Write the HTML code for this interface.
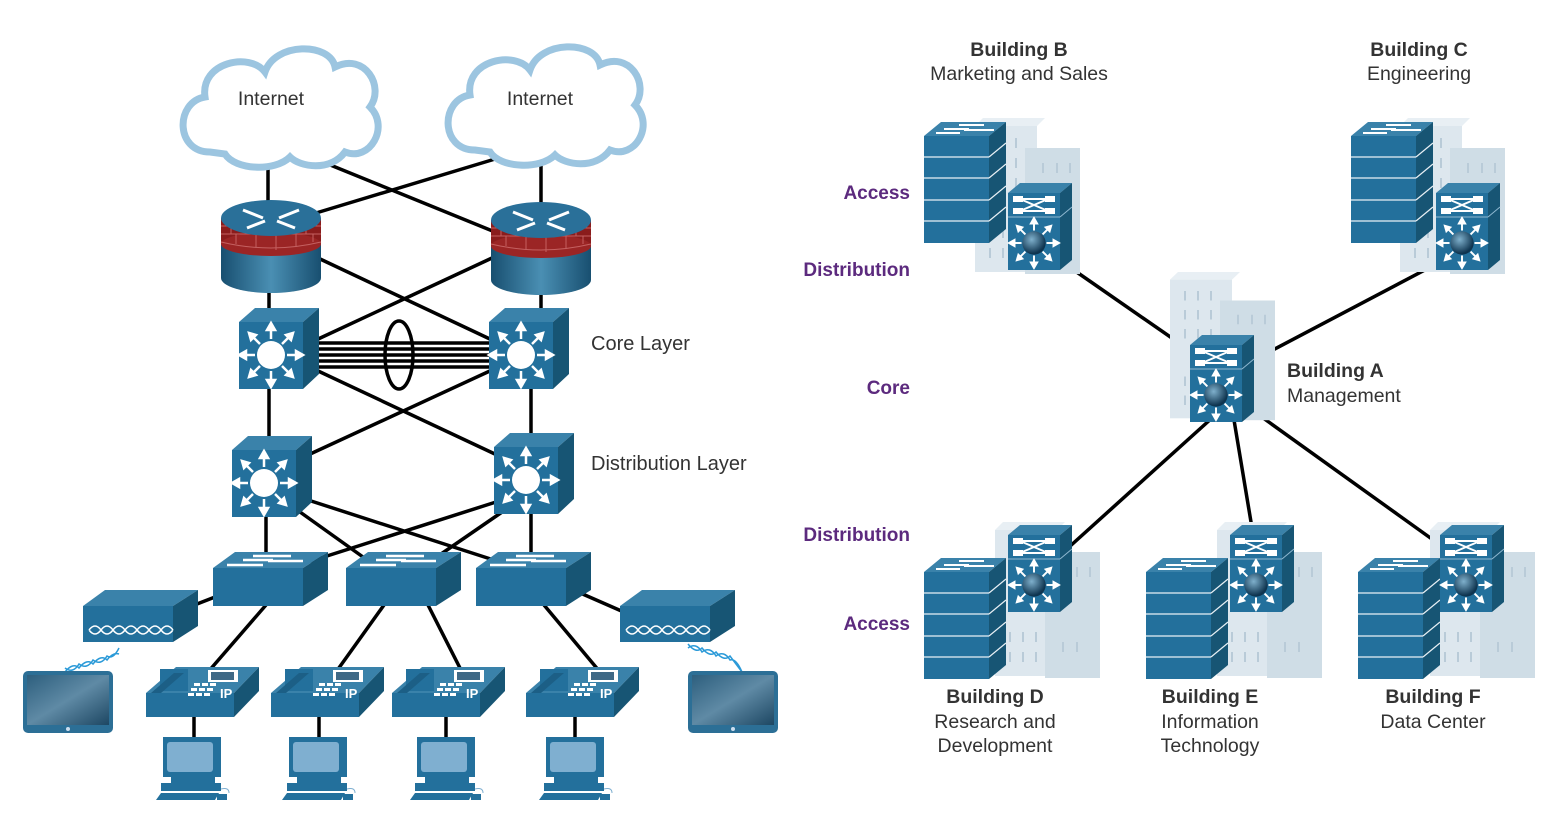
<!DOCTYPE html>
<html><head><meta charset="utf-8"><style>
html,body{margin:0;padding:0;background:#fff;}
svg{display:block;}
text{font-family:"Liberation Sans",sans-serif;}
</style></head><body>
<svg width="1567" height="826" viewBox="0 0 1567 826" xmlns="http://www.w3.org/2000/svg">
<defs>
<linearGradient id="cyl" x1="0" x2="1"><stop offset="0" stop-color="#184f70"/><stop offset="0.5" stop-color="#4a8fb3"/><stop offset="1" stop-color="#184f70"/></linearGradient>
<radialGradient id="sph" cx="0.4" cy="0.35" r="0.6"><stop offset="0" stop-color="#7fb0cc"/><stop offset="1" stop-color="#0f3550"/></radialGradient>
<linearGradient id="scr" x1="0" y1="0" x2="1" y2="1"><stop offset="0" stop-color="#2d5f7e"/><stop offset="0.5" stop-color="#5f8aa5"/><stop offset="1" stop-color="#1d4763"/></linearGradient>
<g id="arrows8">
 <g stroke="#fff" stroke-width="2.5" fill="#fff">
  <line x1="0" y1="-16" x2="0" y2="-27"/><line x1="0" y1="16" x2="0" y2="27"/>
  <line x1="-16" y1="0" x2="-27" y2="0"/><line x1="16" y1="0" x2="27" y2="0"/>
  <line x1="11" y1="-11" x2="19" y2="-19"/><line x1="-11" y1="-11" x2="-19" y2="-19"/>
  <line x1="11" y1="11" x2="19" y2="19"/><line x1="-11" y1="11" x2="-19" y2="19"/>
  <polygon points="0,-32 -4,-25 4,-25"/><polygon points="0,32 -4,25 4,25"/>
  <polygon points="-32,0 -25,-4 -25,4"/><polygon points="32,0 25,-4 25,4"/>
  <polygon points="22,-22 15,-20 20,-15"/><polygon points="-22,-22 -15,-20 -20,-15"/>
  <polygon points="22,22 15,20 20,15"/><polygon points="-22,22 -15,20 -20,15"/>
 </g>
</g>
<g id="cube">
 <polygon points="0,14 16,0 80,0 64,14" fill="#3a82aa"/>
 <polygon points="64,14 80,0 80,66 64,81" fill="#175574"/>
 <rect x="0" y="14" width="64" height="67" fill="#23709c"/>
 <g transform="translate(32,47)"><use href="#arrows8"/><circle r="14" fill="#fff"/></g>
</g>
<g id="fw">
 <rect x="0" y="28" width="100" height="50" fill="url(#cyl)"/>
 <ellipse cx="50" cy="78" rx="50" ry="15" fill="url(#cyl)"/>
 <rect x="0" y="18" width="100" height="26" fill="#8a1c1c"/>
 <ellipse cx="50" cy="44" rx="50" ry="12" fill="#9b2525"/>
 <g stroke="#c46060" stroke-width="1" fill="none">
  <path d="M0,26 H100 M0,34 H100 M0,42 Q50,54 100,42"/>
  <path d="M15,18 V26 M35,18 V26 M55,18 V26 M75,18 V26 M90,18 V26 M25,26 V34 M45,26 V34 M65,26 V34 M85,26 V34 M10,26 V34 M15,34 V44 M35,34 V48 M55,34 V50 M75,34 V47 M92,34 V42"/>
 </g>
 <ellipse cx="50" cy="18" rx="50" ry="18" fill="#2a7099"/>
 <g stroke="#fff" stroke-width="3">
  <line x1="22" y1="10" x2="42" y2="18"/><line x1="78" y1="10" x2="58" y2="18"/>
  <line x1="26" y1="28" x2="44" y2="21"/><line x1="74" y1="28" x2="56" y2="21"/>
 </g>
</g>
<g id="asw">
 <polygon points="0,16 22,0 115,0 90,16" fill="#3a82aa"/>
 <polygon points="90,16 115,0 115,38 90,54" fill="#175574"/>
 <rect x="0" y="16" width="90" height="38" fill="#23709c"/>
 <g stroke="#fff" stroke-width="2.5"><line x1="40" y1="4" x2="78" y2="4"/><line x1="30" y1="8" x2="60" y2="8"/><line x1="55" y1="9" x2="90" y2="9"/><line x1="14" y1="13" x2="50" y2="13"/></g>
</g>
<g id="ap">
 <polygon points="0,16 22,0 115,0 90,16" fill="#3a82aa"/>
 <polygon points="90,16 115,0 115,36 90,52" fill="#175574"/>
 <rect x="0" y="16" width="90" height="36" fill="#23709c"/>
 <g fill="none" stroke="#fff" stroke-width="1.5">
  <path d="M6,40 q6,-8 12,0 q6,8 12,0 q6,-8 12,0 q6,8 12,0 q6,-8 12,0 q6,8 12,0 q6,-8 12,0 M6,40 q6,8 12,0 q6,-8 12,0 q6,8 12,0 q6,-8 12,0 q6,8 12,0 q6,-8 12,0 q6,8 12,0"/>
 </g>
</g>
<g id="tab">
 <rect x="0" y="0" width="90" height="62" rx="5" fill="#2c6f96"/>
 <rect x="4" y="4" width="82" height="50" fill="url(#scr)"/>
 <circle cx="45" cy="58" r="2" fill="#cde"/>
</g>
<g id="phone">
 <polygon points="0,26 30,0 113,0 88,26" fill="#3a82aa"/>
 <polygon points="88,26 113,0 113,24 88,50" fill="#175574"/>
 <rect x="0" y="26" width="88" height="24" fill="#23709c"/>
 <rect x="14" y="2" width="28" height="22" fill="#23709c"/>
 <polygon points="5,26 28,6 38,6 15,26" fill="#1c5f86"/>
 <rect x="62" y="3" width="30" height="12" fill="#fff"/><rect x="65" y="5" width="23" height="8" fill="#3f6986"/>
 <g fill="#fff"><rect x="48" y="16" width="6" height="3"/><rect x="56" y="16" width="6" height="3"/><rect x="64" y="16" width="6" height="3"/><rect x="45" y="21" width="6" height="3"/><rect x="53" y="21" width="6" height="3"/><rect x="61" y="21" width="6" height="3"/><rect x="42" y="26" width="6" height="3"/><rect x="50" y="26" width="6" height="3"/><rect x="58" y="26" width="6" height="3"/></g>
 <text x="74" y="31" font-size="13" font-weight="bold" fill="#fff">IP</text>
</g>
<g id="pc">
 <rect x="10" y="0" width="58" height="40" fill="#23709c"/>
 <rect x="14" y="5" width="46" height="30" rx="3" fill="#7fafd0"/>
 <rect x="18" y="40" width="44" height="6" fill="#23709c"/>
 <rect x="8" y="46" width="60" height="8" fill="#23709c"/>
 <polygon points="3,63 8,56 66,56 62,63" fill="#23709c"/>
 <rect x="64" y="57" width="10" height="6" fill="#23709c"/>
 <path d="M68,52 q8,-2 8,4" fill="none" stroke="#7fafd0"/>
</g>
<g id="stack">
 <polygon points="0,16 17,2 82,2 65,16" fill="#3a82aa"/>
 <g stroke="#fff" stroke-width="2"><line x1="35" y1="5" x2="60" y2="5"/><line x1="20" y1="9" x2="45" y2="9"/><line x1="40" y1="10" x2="70" y2="10"/><line x1="12" y1="13" x2="36" y2="13"/></g>
 <polygon points="65,16 82,2 82,109 65,123" fill="#175574"/>
 <rect x="0" y="16" width="65" height="107" fill="#23709c"/>
 <g stroke="#e8f0f5" stroke-width="1.2"><line x1="0" y1="37" x2="65" y2="37"/><line x1="0" y1="58" x2="65" y2="58"/><line x1="0" y1="80" x2="65" y2="80"/><line x1="0" y1="101" x2="65" y2="101"/>
 <line x1="65" y1="37" x2="82" y2="23"/><line x1="65" y1="58" x2="82" y2="44"/><line x1="65" y1="80" x2="82" y2="66"/><line x1="65" y1="101" x2="82" y2="87"/></g>
</g>
<g id="bld">
 <rect x="0" y="8" width="62" height="146" fill="#dde7ee"/>
 <polygon points="0,8 8,0 70,0 62,8" fill="#e8eff4"/>
 <rect x="50" y="30" width="55" height="126" fill="#cfdde6"/>
 <g stroke="#b9cbd8" stroke-width="2"><path d="M15,20 v10 M28,20 v10 M41,20 v10 M15,40 v10 M28,40 v10 M41,40 v10 M15,60 v10 M28,60 v10 M41,60 v10 M15,110 v10 M28,110 v10 M41,110 v10 M15,130 v10 M28,130 v10 M41,130 v10 M68,45 v10 M82,45 v10 M95,45 v10 M68,120 v10 M82,120 v10"/></g>
</g>
<g id="dsw">
 <polygon points="0,10 12,0 64,0 52,10" fill="#3a82aa"/>
 <polygon points="52,10 64,0 64,77 52,87" fill="#175574"/>
 <rect x="0" y="10" width="52" height="77" fill="#23709c"/>
 <line x1="0" y1="34" x2="52" y2="34" stroke="#8fb8d0"/>
 <line x1="52" y1="34" x2="64" y2="24" stroke="#8fb8d0"/>
 <g stroke="#fff" stroke-width="2" fill="none"><path d="M6,16 H46 M6,28 H46 M12,16 L40,28 M12,28 L40,16"/><rect x="6" y="14" width="8" height="4" fill="#fff"/><rect x="38" y="14" width="8" height="4" fill="#fff"/><rect x="6" y="26" width="8" height="4" fill="#fff"/><rect x="38" y="26" width="8" height="4" fill="#fff"/></g>
 <g transform="translate(26,60) scale(0.78)"><use href="#arrows8"/><circle r="15" fill="url(#sph)"/></g>
</g>
<g id="cloud">
 <path d="M30,110 C-5,110 -5,60 25,55 C20,20 70,10 85,30 C95,0 150,0 155,25 C185,10 205,45 190,65 C210,85 190,120 165,110 C150,130 120,125 110,115 C95,130 55,128 45,112 Z" fill="#fff" stroke="#9cc5e0" stroke-width="7"/>
</g>
</defs>

<g stroke="#000" stroke-width="3.5" fill="none">
 <line x1="268" y1="158" x2="268" y2="205"/>
 <line x1="541" y1="158" x2="541" y2="205"/>
 <line x1="318" y1="160" x2="495" y2="232"/>
 <line x1="505" y1="156" x2="316" y2="213"/>
 <line x1="269" y1="290" x2="269" y2="312"/>
 <line x1="541" y1="290" x2="541" y2="312"/>
 <line x1="318" y1="258" x2="492" y2="340"/>
 <line x1="492" y1="258" x2="316" y2="340"/>
 <line x1="316" y1="343" x2="492" y2="343"/><line x1="316" y1="349" x2="492" y2="349"/><line x1="316" y1="355" x2="492" y2="355"/><line x1="316" y1="361" x2="492" y2="361"/><line x1="316" y1="367" x2="492" y2="367"/>
 <line x1="316" y1="370" x2="497" y2="455"/>
 <line x1="492" y1="370" x2="308" y2="455"/>
 <line x1="269" y1="388" x2="269" y2="440"/>
 <line x1="531" y1="388" x2="531" y2="436"/>
 <line x1="266" y1="514" x2="266" y2="556"/>
 <line x1="300" y1="512" x2="370" y2="562"/>
 <line x1="308" y1="500" x2="503" y2="563"/>
 <line x1="496" y1="502" x2="305" y2="563"/>
 <line x1="505" y1="510" x2="428" y2="563"/>
 <line x1="531" y1="510" x2="531" y2="556"/>
 <line x1="197" y1="604" x2="215" y2="597"/>
 <line x1="578" y1="592" x2="626" y2="613"/>
 <line x1="266" y1="605" x2="208" y2="672"/>
 <line x1="384" y1="605" x2="336" y2="672"/>
 <line x1="428" y1="605" x2="462" y2="672"/>
 <line x1="544" y1="605" x2="600" y2="672"/>
 <line x1="194" y1="716" x2="194" y2="740"/><line x1="319" y1="716" x2="319" y2="740"/><line x1="446" y1="716" x2="446" y2="740"/><line x1="575" y1="716" x2="575" y2="740"/>
</g>
<ellipse cx="399" cy="355" rx="14" ry="34" fill="none" stroke="#000" stroke-width="3.5"/>

<use href="#cloud" transform="translate(180,42)"/>
<use href="#cloud" transform="translate(445,40)"/>
<text x="271" y="105" font-size="19.5" fill="#333" text-anchor="middle">Internet</text>
<text x="540" y="105" font-size="19.5" fill="#333" text-anchor="middle">Internet</text>

<use href="#fw" transform="translate(221,200)"/>
<use href="#fw" transform="translate(491,202)"/>
<use href="#cube" transform="translate(239,308)"/>
<use href="#cube" transform="translate(489,308)"/>
<use href="#cube" transform="translate(232,436)"/>
<use href="#cube" transform="translate(494,433)"/>
<text x="591" y="350" font-size="20" fill="#333">Core Layer</text>
<text x="591" y="470" font-size="20" fill="#333">Distribution Layer</text>

<use href="#asw" transform="translate(213,552)"/>
<use href="#asw" transform="translate(346,552)"/>
<use href="#asw" transform="translate(476,552)"/>
<use href="#ap" transform="translate(83,590)"/>
<use href="#ap" transform="translate(620,590)"/>
<g fill="none" stroke="#2b9ad8" stroke-width="1.5">
 <path d="M65,672 q8,-10 14,-4 q8,-10 14,-4 q8,-10 14,-4 q6,-8 12,-6"/><path d="M65,668 q8,6 14,-4 q8,6 14,-4 q8,6 14,-4 q6,4 12,-8"/>
 <path d="M688,644 q8,10 14,4 q8,10 14,4 q8,10 14,4 q6,8 12,16"/><path d="M688,648 q8,-6 14,4 q8,-6 14,4 q8,-6 14,4 q6,-2 12,12"/>
</g>
<use href="#tab" transform="translate(23,671)"/>
<use href="#tab" transform="translate(688,671)"/>
<use href="#phone" transform="translate(146,667)"/>
<use href="#phone" transform="translate(271,667)"/>
<use href="#phone" transform="translate(392,667)"/>
<use href="#phone" transform="translate(526,667)"/>
<use href="#pc" transform="translate(153,737)"/>
<use href="#pc" transform="translate(279,737)"/>
<use href="#pc" transform="translate(407,737)"/>
<use href="#pc" transform="translate(536,737)"/>

<g stroke="#000" stroke-width="3.5">
 <line x1="1068" y1="266" x2="1192" y2="352"/>
 <line x1="1440" y1="262" x2="1250" y2="362"/>
 <line x1="1212" y1="418" x2="1068" y2="548"/>
 <line x1="1234" y1="420" x2="1252" y2="528"/>
 <line x1="1252" y1="410" x2="1450" y2="552"/>
</g>
<use href="#bld" transform="translate(975,118)"/>
<use href="#stack" transform="translate(924,120)"/>
<use href="#dsw" transform="translate(1008,183)"/>
<use href="#bld" transform="translate(1400,118)"/>
<use href="#stack" transform="translate(1351,120)"/>
<use href="#dsw" transform="translate(1436,183)"/>
<use href="#bld" transform="translate(1170,272) scale(1,0.95)"/>
<use href="#dsw" transform="translate(1190,335)"/>
<use href="#bld" transform="translate(995,522)"/>
<use href="#stack" transform="translate(924,556)"/>
<use href="#dsw" transform="translate(1008,525)"/>
<use href="#bld" transform="translate(1217,522)"/>
<use href="#stack" transform="translate(1146,556)"/>
<use href="#dsw" transform="translate(1230,525)"/>
<use href="#bld" transform="translate(1430,522)"/>
<use href="#stack" transform="translate(1358,556)"/>
<use href="#dsw" transform="translate(1440,525)"/>

<g font-size="19" font-weight="bold" fill="#5c2a7e" text-anchor="end">
 <text x="910" y="199">Access</text>
 <text x="910" y="276">Distribution</text>
 <text x="910" y="394">Core</text>
 <text x="910" y="541">Distribution</text>
 <text x="910" y="630">Access</text>
</g>
<g font-size="19.5" fill="#333" text-anchor="middle">
 <text x="1019" y="56" font-weight="bold">Building B</text>
 <text x="1019" y="80">Marketing and Sales</text>
 <text x="1419" y="56" font-weight="bold">Building C</text>
 <text x="1419" y="80">Engineering</text>
 <text x="995" y="703" font-weight="bold">Building D</text>
 <text x="995" y="728">Research and</text>
 <text x="995" y="752">Development</text>
 <text x="1210" y="703" font-weight="bold">Building E</text>
 <text x="1210" y="728">Information</text>
 <text x="1210" y="752">Technology</text>
 <text x="1433" y="703" font-weight="bold">Building F</text>
 <text x="1433" y="728">Data Center</text>
</g>
<g font-size="19.5" fill="#333">
 <text x="1287" y="377" font-weight="bold">Building A</text>
 <text x="1287" y="402">Management</text>
</g>
</svg>
</body></html>
